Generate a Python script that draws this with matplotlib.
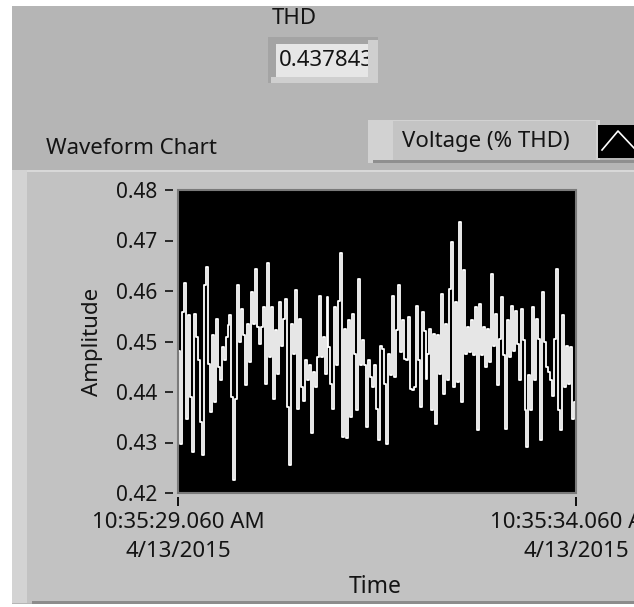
"""LabVIEW-style front panel: THD indicator + waveform chart of voltage THD."""
import matplotlib
matplotlib.use("Agg")
import matplotlib.pyplot as plt
from matplotlib.patches import Rectangle
from matplotlib.lines import Line2D
import numpy as np

W, H = 634, 607

# --- data -------------------------------------------------------------------
THD_VALUE = "0.437843"
CHART_TITLE = "Waveform Chart"
LEGEND_LABEL = "Voltage (% THD)"
X_LABEL = "Time"
Y_LABEL = "Amplitude"

X_TICKS = [0.0, 5.0]                     # seconds after 10:35:29.060
X_TICK_LABELS = ["10:35:29.060 AM\n4/13/2015", "10:35:34.060 AM\n4/13/2015"]
Y_TICKS = [0.42, 0.43, 0.44, 0.45, 0.46, 0.47, 0.48]

amplitude = [
    0.4482, 0.4298, 0.4558, 0.4615, 0.4347, 0.4552, 0.4390, 0.4281, 0.4555, 0.4509,
    0.4463, 0.4340, 0.4275, 0.4611, 0.4647, 0.4456, 0.4360, 0.4512, 0.4380, 0.4545,
    0.4449, 0.4423, 0.4489, 0.4463, 0.4509, 0.4532, 0.4552, 0.4390, 0.4225, 0.4387,
    0.4611, 0.4499, 0.4565, 0.4512, 0.4413, 0.4535, 0.4459, 0.4598, 0.4535, 0.4644,
    0.4528, 0.4496, 0.4528, 0.4568, 0.4416, 0.4655, 0.4469, 0.4568, 0.4387, 0.4522,
    0.4436, 0.4578, 0.4492, 0.4545, 0.4584, 0.4370, 0.4255, 0.4535, 0.4476, 0.4601,
    0.4367, 0.4545, 0.4410, 0.4383, 0.4463, 0.4423, 0.4453, 0.4318, 0.4440, 0.4410,
    0.4469, 0.4591, 0.4469, 0.4509, 0.4436, 0.4588, 0.4489, 0.4416, 0.4367, 0.4568,
    0.4453, 0.4581, 0.4675, 0.4311, 0.4525, 0.4308, 0.4542, 0.4350, 0.4555, 0.4476,
    0.4364, 0.4624, 0.4453, 0.4502, 0.4453, 0.4331, 0.4463, 0.4430, 0.4410, 0.4453,
    0.4367, 0.4304, 0.4492, 0.4486, 0.4416, 0.4298, 0.4476, 0.4433, 0.4591, 0.4430,
    0.4522, 0.4611, 0.4479, 0.4542, 0.4466, 0.4463, 0.4548, 0.4406, 0.4403, 0.4410,
    0.4571, 0.4463, 0.4370, 0.4558, 0.4520, 0.4426, 0.4476, 0.4525, 0.4364, 0.4515,
    0.4337, 0.4512, 0.4436, 0.4594, 0.4397, 0.4535, 0.4423, 0.4604, 0.4697, 0.4410,
    0.4578, 0.4420, 0.4736, 0.4380, 0.4641, 0.4476, 0.4528, 0.4479, 0.4542, 0.4473,
    0.4568, 0.4324, 0.4575, 0.4473, 0.4528, 0.4449, 0.4525, 0.4459, 0.4634, 0.4492,
    0.4555, 0.4413, 0.4505, 0.4588, 0.4473, 0.4327, 0.4542, 0.4469, 0.4571, 0.4482,
    0.4561, 0.4496, 0.4423, 0.4565, 0.4502, 0.4364, 0.4291, 0.4433, 0.4364, 0.4568,
    0.4423, 0.4545, 0.4505, 0.4304, 0.4598, 0.4499, 0.4449, 0.4440, 0.4423, 0.4393,
    0.4505, 0.4644, 0.4364, 0.4324, 0.4552, 0.4410, 0.4492, 0.4416, 0.4489, 0.4347,
    0.4380, 0.4433,
]
time_s = np.linspace(X_TICKS[0], X_TICKS[-1], len(amplitude))

# --- styling ----------------------------------------------------------------
PANEL = "#b5b5b5"
FRAME = "#c2c2c2"
TEXT = "#141414"
FONT = "Noto Sans"
FS = 16          # general labels
FS_TICK = 15     # amplitude tick labels

plt.rcParams["font.family"] = [FONT, "DejaVu Sans"]


def fx(x):
    return x / W


def fy(y):
    return 1 - y / H


def box(fig, x0, y0, x1, y1, color, z=-5, **kw):
    r = Rectangle((fx(x0), fy(y1)), (x1 - x0) / W, (y1 - y0) / H,
                  transform=fig.transFigure, facecolor=color, edgecolor="none",
                  zorder=z, **kw)
    fig.add_artist(r)
    return r


fig = plt.figure(figsize=(W / 100, H / 100), dpi=100, facecolor=PANEL)

# page edges and chart frame
box(fig, 0, 0, W, 6, "white")
box(fig, 0, 0, 12, H, "white")
box(fig, 12, 170, W, 603, FRAME)
box(fig, 12, 170, 27, 603, "#d3d3d3")
box(fig, 27, 170, W, 172, "#d8d8d8")
box(fig, 32, 601, W, 604, "#8c8c8c")
box(fig, 12, 604, W, H, "white")

# THD numeric indicator (raised bevel around a light field)
fig.text(fx(294), fy(19), "THD", ha="center", va="center", fontsize=FS, color=TEXT)
box(fig, 268, 37, 378, 83, "#a4a4a4")
box(fig, 271, 77, 378, 83, "#cfcfcf")
box(fig, 368, 40, 378, 83, "#cfcfcf")
field = box(fig, 276, 44, 368, 77, "#e6e6e6", z=-4)
t = fig.text(fx(279), fy(60), THD_VALUE, ha="left", va="center", fontsize=FS, color=TEXT)
t.set_clip_path(field)

# chart label and plot legend
fig.text(fx(131), fy(149), CHART_TITLE, ha="center", va="center", fontsize=FS, color=TEXT)
box(fig, 368, 120, 600, 163, "#d2d2d2")
box(fig, 393, 121, 596, 160, "#c4c4c4", z=-4)
box(fig, 373, 160, W, 163, "#8f8f8f", z=-4)
fig.text(fx(486), fy(141), LEGEND_LABEL, ha="center", va="center", fontsize=FS, color=TEXT)
box(fig, 598, 125, W, 158, "black", z=-3)
fig.add_artist(Line2D([fx(602), fx(618), fx(634)], [fy(150), fy(131), fy(148)],
                      transform=fig.transFigure, color="white", lw=1.2, zorder=-2))

# waveform chart
ax = fig.add_axes([fx(178), fy(493), 398 / W, 303 / H])
ax.set_facecolor("black")
ax.step(time_s, amplitude, where="post", color="white", lw=1.3)
ax.set_xlim(X_TICKS[0], X_TICKS[-1])
ax.set_ylim(Y_TICKS[0], Y_TICKS[-1])
ax.add_patch(Rectangle((0, 0), 1, 1, transform=ax.transAxes, fill=False,
                       edgecolor="#7a7a7a", lw=1.5, clip_on=False, zorder=5))

for side in ["top", "right"]:
    ax.spines[side].set_visible(False)
ax.spines["left"].set_position(("outward", 3.6))
ax.spines["bottom"].set_position(("outward", 2.9))
ax.spines["left"].set_visible(False)
ax.spines["bottom"].set_visible(False)

ax.set_yticks(Y_TICKS)
ax.set_yticklabels([f"{v:.2f}" for v in Y_TICKS])
ax.set_xticks(X_TICKS)
ax.set_xticklabels(X_TICK_LABELS, linespacing=1.45)
ax.tick_params(axis="y", direction="out", length=5.8, width=1.1, pad=5.2,
               labelsize=FS_TICK, color="black", labelcolor=TEXT)
ax.tick_params(axis="x", direction="out", length=6.5, width=1.3, pad=4.5,
               labelsize=FS, color="black", labelcolor=TEXT)

fig.text(fx(92), fy(342), Y_LABEL, rotation=90, ha="center", va="center",
         fontsize=FS, color=TEXT)
fig.text(fx(375), fy(587), X_LABEL, ha="center", va="center", fontsize=FS + 0.5,
         fontweight="bold", color=TEXT)

fig.savefig("out.png", dpi=100, facecolor=PANEL)
